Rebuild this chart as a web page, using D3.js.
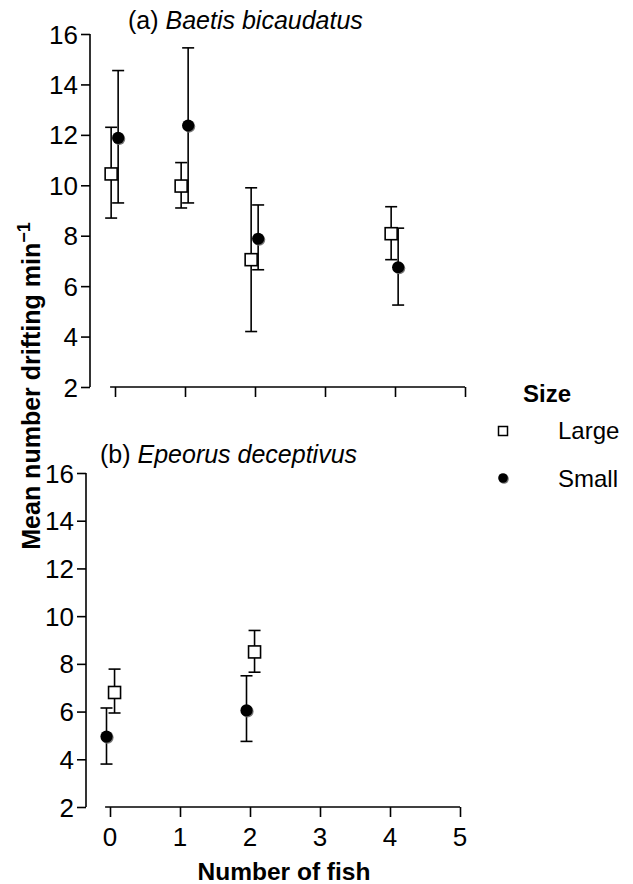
<!DOCTYPE html>
<html><head><meta charset="utf-8">
<script src="https://cdn.jsdelivr.net/npm/d3@7"></script>
<style>
html,body{margin:0;padding:0;background:#fff;}
svg{display:block;font-family:"Liberation Sans",Arial,Helvetica,sans-serif;}
</style></head>
<body>
<script>
// ---- data ----
const fishA = [0, 1, 2, 4];
const largeA = [10.45, 9.97, 7.05, 8.08];
const largeA_lo = [8.7, 9.1, 4.2, 7.05];
const largeA_hi = [12.3, 10.9, 9.9, 9.15];
const smallA = [11.88, 12.37, 7.88, 6.75];
const smallA_lo = [9.3, 9.3, 6.65, 5.25];
const smallA_hi = [14.55, 15.45, 9.22, 8.3];

const fishB = [0, 2];
const largeB = [6.8, 8.5];
const largeB_lo = [5.94, 7.65];
const largeB_hi = [7.78, 9.4];
const smallB = [4.95, 6.05];
const smallB_lo = [3.8, 4.75];
const smallB_hi = [6.15, 7.5];

const yTicks = [2, 4, 6, 8, 10, 12, 14, 16];
const xTicks = [0, 1, 2, 3, 4, 5];
const sizeLevels = ["Large", "Small"];
const titles = ["(a) ", "Baetis bicaudatus", "(b) ", "Epeorus deceptivus"];

const W = 633, H = 884;
const svg = d3.select("body").append("svg").attr("width", W).attr("height", H);

function txt(g, x, y, s, opts) {
  opts = opts || {};
  const t = g.append("text")
    .attr("transform", `translate(${x},${y})${opts.rot ? " rotate(-90)" : ""}${opts.sx ? ` scale(${opts.sx},1)` : ""}`)
    .attr("font-size", opts.size || 24)
    .attr("font-weight", opts.bold ? "bold" : "normal")
    .attr("text-anchor", opts.anchor || "start")
    .attr("fill", "#000");
  if (s !== null) t.text(s);
  return t;
}

const TICK_FS = 26;

function panel(cfg) {
  const g = svg.append("g");
  const x = d3.scaleLinear().domain([0, 5]).range(cfg.xr);
  const y = d3.scaleLinear().domain([2, 16]).range(cfg.yr);

  // y axis
  const ya = g.append("g").attr("transform", `translate(${cfg.yAxisX},0)`)
    .call(d3.axisLeft(y).tickValues(yTicks).tickSize(9).tickFormat(""));
  ya.select(".domain").attr("d", `M0,${y(2)}V${y(16)}`).attr("stroke-width", 1.6);
  ya.selectAll(".tick line").attr("stroke-width", 1.6);
  yTicks.forEach(v => txt(g, cfg.yAxisX - 12, y(v) + 9.5, String(v), {anchor: "end", size: TICK_FS}));

  // x axis
  const xa = g.append("g").attr("transform", `translate(0,${y(2)})`)
    .call(d3.axisBottom(x).tickValues(xTicks).tickSize(10).tickFormat(""));
  xa.select(".domain").attr("d", `M${x(-0.07)},0H${x(5)}`).attr("stroke-width", 1.6);
  xa.selectAll(".tick line").attr("stroke-width", 1.6);
  if (cfg.xLabels) {
    xTicks.forEach(v => txt(g, x(v), y(2) + 39, String(v), {anchor: "middle", size: TICK_FS}));
  }

  // title
  const tt = txt(g, cfg.titleX, cfg.titleY, null, {size: 25});
  tt.append("tspan").text(cfg.title[0]);
  tt.append("tspan").attr("font-style", "italic").text(cfg.title[1]);

  const series = [
    {name: "Large", fish: cfg.fish, m: cfg.large, lo: cfg.largeLo, hi: cfg.largeHi, dx: cfg.dxLarge},
    {name: "Small", fish: cfg.fish, m: cfg.small, lo: cfg.smallLo, hi: cfg.smallHi, dx: cfg.dxSmall}
  ];
  const cap = 6;
  series.forEach(s => {
    s.fish.forEach((f, i) => {
      const cx = x(f + s.dx);
      const eb = g.append("g").attr("stroke", "#000").attr("stroke-width", 1.6).attr("fill", "none");
      eb.append("line").attr("x1", cx).attr("x2", cx).attr("y1", y(s.lo[i])).attr("y2", y(s.hi[i]));
      eb.append("line").attr("x1", cx - cap).attr("x2", cx + cap).attr("y1", y(s.lo[i])).attr("y2", y(s.lo[i]));
      eb.append("line").attr("x1", cx - cap).attr("x2", cx + cap).attr("y1", y(s.hi[i])).attr("y2", y(s.hi[i]));
    });
  });
  series.forEach(s => {
    s.fish.forEach((f, i) => {
      const cx = x(f + s.dx), cy = y(s.m[i]);
      if (s.name === "Large") {
        g.append("rect").attr("x", cx - 6).attr("y", cy - 6).attr("width", 12).attr("height", 12)
          .attr("fill", "#fff").attr("stroke", "#000").attr("stroke-width", 1.6);
      } else {
        g.append("circle").attr("cx", cx + 1).attr("cy", cy + 1).attr("r", 6.1).attr("fill", "#777");
        g.append("circle").attr("cx", cx).attr("cy", cy).attr("r", 6.1).attr("fill", "#000");
      }
    });
  });
}

panel({
  xr: [115, 465], yr: [387, 34], yAxisX: 90, xLabels: false,
  title: [titles[0], titles[1]], titleX: 128, titleY: 29,
  fish: fishA, large: largeA, largeLo: largeA_lo, largeHi: largeA_hi,
  small: smallA, smallLo: smallA_lo, smallHi: smallA_hi,
  dxLarge: -0.055, dxSmall: 0.045
});
panel({
  xr: [110, 460], yr: [807, 473], yAxisX: 86, xLabels: true,
  title: [titles[2], titles[3]], titleX: 100, titleY: 463,
  fish: fishB, large: largeB, largeLo: largeB_lo, largeHi: largeB_hi,
  small: smallB, smallLo: smallB_lo, smallHi: smallB_hi,
  dxLarge: 0.065, dxSmall: -0.05
});

// axis titles
txt(svg, 284, 880, "Number of fish", {anchor: "middle", bold: true, size: 24.5});
const yl = txt(svg, 40, 386, null, {anchor: "middle", bold: true, size: 25, rot: true});
yl.append("tspan").text("Mean number drifting min");
yl.append("tspan").attr("font-size", 18).attr("dy", -10).text("\u22121");

// legend
const lg = svg.append("g");
txt(lg, 523, 402, "Size", {bold: true, size: 24});
lg.append("rect").attr("x", 503 - 4.5).attr("y", 431 - 4.5).attr("width", 9).attr("height", 9)
  .attr("fill", "#fff").attr("stroke", "#000").attr("stroke-width", 1.5);
txt(lg, 558, 439, sizeLevels[0], {size: 24});
lg.append("circle").attr("cx", 504).attr("cy", 479).attr("r", 4.8).attr("fill", "#777");
lg.append("circle").attr("cx", 503).attr("cy", 478).attr("r", 4.8).attr("fill", "#000");
txt(lg, 558, 487, sizeLevels[1], {size: 24});
</script>
</body></html>
